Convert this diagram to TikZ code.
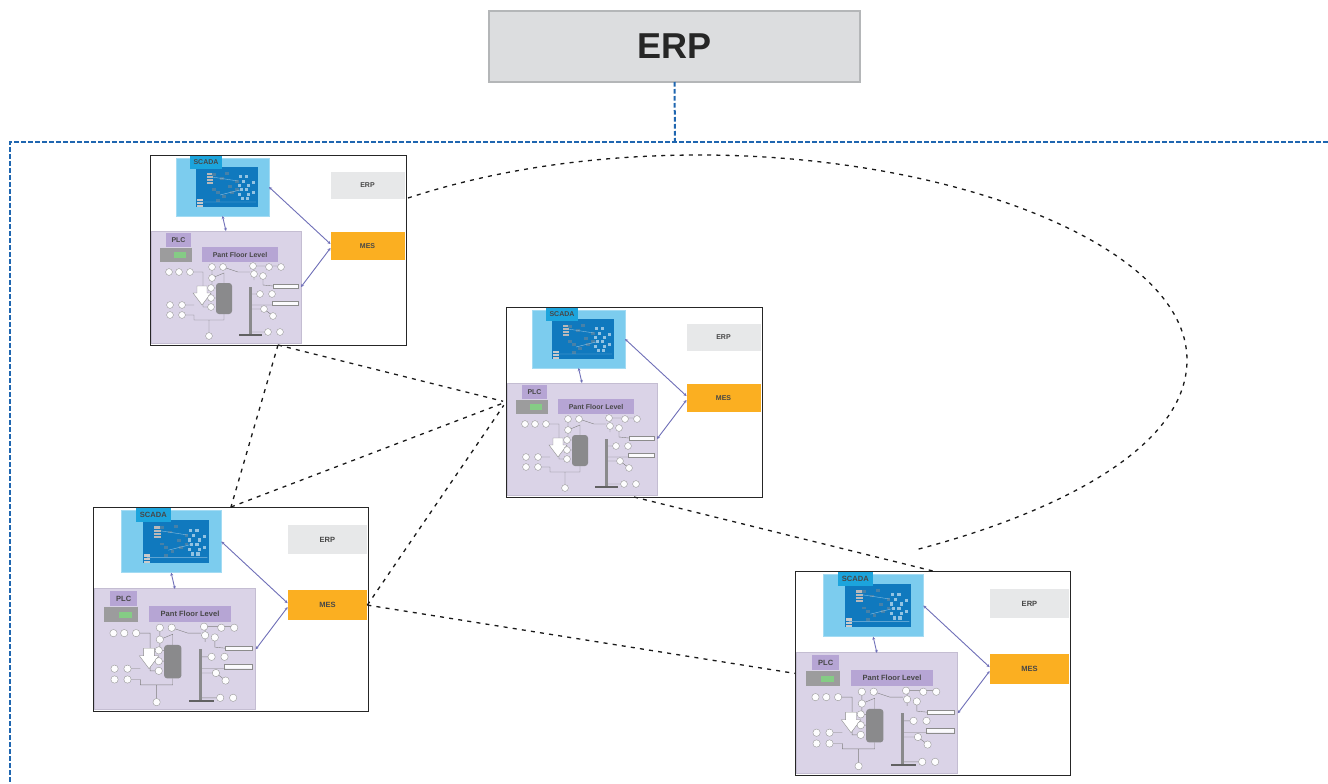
\documentclass[tikz,border=0pt]{standalone}
\usepackage{fontspec}
\usetikzlibrary{arrows.meta}
\setmainfont{Liberation Sans}
\definecolor{topfill}{HTML}{DCDDDF}
\definecolor{topedge}{HTML}{B4B6B8}
\definecolor{busblue}{HTML}{1F66B0}
\definecolor{scadalt}{HTML}{7CCCEE}
\definecolor{scadatag}{HTML}{1CA4DC}
\definecolor{scadadk}{HTML}{1079BE}
\definecolor{plcbg}{HTML}{DAD3E7}
\definecolor{plcedge}{HTML}{C4BDD2}
\definecolor{plctag}{HTML}{B6A5D4}
\definecolor{erpfill}{HTML}{E7E8E9}
\definecolor{mesfill}{HTML}{FBAF21}
\definecolor{linkv}{HTML}{6F6FB8}
\definecolor{graypart}{HTML}{8A8A8C}
\tikzset{
  rg/.style={inner sep=0pt,outer sep=0pt,text=black!72,font=\fontsize{\FS}{\FS}\selectfont\bfseries},
  link/.style={draw=linkv,line width=0.9pt,{Stealth[length=3pt,width=3pt]}-{Stealth[length=3pt,width=3pt]}},
  wire/.style={draw=black!50,line width=0.4pt},
  dot/.style={draw=black!40,fill=white!95!plcbg,line width=0.4pt},
  peer/.style={draw=black!90,line width=1.3pt,dash pattern=on 4pt off 5.2pt},
  bus/.style={draw=busblue,line width=2pt,dash pattern=on 4.6pt off 2.4pt}
}
% region: name, x0, y0, x1, y1, style, text
\newcommand{\rgn}[7]{\node[rg,#6,minimum width=\S*(#4-#2)*1pt,minimum height=\S*(#5-#3)*1pt] (#1) at ({(#2+#4)/2},{(#3+#5)/2}) {#7};}
\newcommand{\panel}[4]{%
\begin{scope}[shift={(#2,#3)},x=#4 pt,y=-#4 pt]
\def\S{#4}
\pgfmathsetmacro\FS{7*#4}
\rgn{#1}{0}{0}{256}{190}{draw=black!85,line width=1pt,fill=white}{}
\rgn{#1s}{26}{3}{119}{61}{draw=scadalt!70!white,line width=0.6pt,fill=scadalt}{}
\fill[scadadk] (46,12) rectangle (108,52);
\rgn{#1st}{40}{1}{72}{14}{fill=scadatag}{SCADA}
\foreach \b in {18,21,24,27}{\fill[graypart!60!white] (57,\b) rectangle ++(6,2);}
\foreach \b in {44,47,50}{\fill[graypart!45!white] (47,\b) rectangle ++(6,2);}
\foreach \a/\b in {62/18,70/22,75/17,78/30,62/33,66/36,72/40,80/36,85/25,85/33,66/44}{\fill[graypart!45!scadadk] (\a,\b) rectangle ++(3.5,2.5);}
\foreach \a/\b in {89/20,95/20,92/25,88/29,97/29,90/33,95/33,88/38,97/38,91/42,96/42,102/26,102/36}{\fill[white!55!scadadk] (\a,\b) rectangle ++(3,3);}
\draw[white!50!scadadk,line width=0.4pt] (50,47) -- (106,47) (62,22) -- (88,26) (70,40) -- (90,35);
\rgn{#1p}{1}{76}{151}{188}{draw=plcedge,line width=0.9pt,fill=plcbg}{}
\rgn{#1pt}{16}{78}{41}{92}{fill=plctag}{PLC}
\fill[graypart!85!white] (10,93) rectangle (42,107);
\fill[white!65!green!80!black] (24,97) rectangle (36,103);
\rgn{#1f}{52}{92}{128}{107}{fill=plctag}{Pant Floor Level}
\rgn{#1e}{180.5}{17}{254.5}{44}{fill=erpfill}{ERP}
\rgn{#1m}{180.5}{77}{254.5}{105}{fill=mesfill}{MES}
\draw[link] (#1s.south) -- (#1p.north);
\draw[link] (#1s.east) -- ([yshift=2pt]#1m.west);
\draw[link] (#1p.east) -- ([yshift=-2pt]#1m.west);
% plant floor schematic
\draw[wire] (40,117) -- (53,117) -- (53,152) -- (61,152)
  (32,150) -- (44,150) (32,160) -- (44,160) -- (44,165) -- (74,165) -- (74,159)
  (62,112) -- (62,133) (73,112) -- (88,117) -- (100,117)
  (62,123) -- (74,118) -- (74,128) (61,133) -- (66,133) (61,143) -- (66,143)
  (59,165) -- (59,181) (104,111) -- (104,125) (113,121) -- (113,130) -- (123,131)
  (100,139) -- (110,139) (100,150) -- (123,150) (100,154) -- (114,154) -- (123,161)
  (100,177) -- (118,177) (103,111) -- (131,111);
\fill[graypart,rounded corners=3pt] (66,128) rectangle (82,159);
\draw[draw=black!45,fill=white,line width=0.4pt] (47,131) -- (57,131) -- (57,138) -- (61,138) -- (52,150) -- (43,138) -- (47,138) -- cycle;
\fill[graypart] (98.5,132) rectangle (101.5,180);
\fill[graypart!70!black] (89,179) rectangle (112,181);
\draw[black!45,fill=white!90!plcbg,line width=0.4pt] (123,129) rectangle (148,133) (122,146) rectangle (148,150);
\foreach \a/\b in {19/117,29/117,40/117,62/112,73/112,62/123,61/133,61/143,61/152,103/111,119/112,131/112,104/119,113/121,20/150,32/150,20/160,32/160,110/139,122/139,114/154,123/161,118/177,130/177,59/181}{\draw[dot] (\a,\b) circle[radius=3.4];}
\end{scope}}
\begin{document}
\begin{tikzpicture}[x=1pt,y=-1pt]
\useasboundingbox (0,0) rectangle (1328,784);
\fill[white] (0,0) rectangle (1328,784);
\node[draw=topedge,line width=1.2pt,fill=topfill,minimum width=371pt,minimum height=71pt,inner sep=0pt,outer sep=0pt,font=\fontsize{36}{36}\selectfont\bfseries,text=black!85] (top) at (674.5,46.5) {ERP};
\coordinate (busjoin) at (675,142);
\coordinate (busl) at (10,142);
\coordinate (busr) at (1328,142);
\coordinate (busd) at (10,784);
\draw[bus] (top.south) -- (busjoin);
\draw[bus] (busr) -- (busl) -- (busd);
\panel{pa}{150}{155}{1}
\panel{pb}{506}{307}{1}
\panel{pc}{93}{507}{1.078}
\panel{pd}{795}{571}{1.078}
\draw[peer,shorten >=3pt] (pa.south) -- (pb.west);
\draw[peer] (pa.south) -- (pc.north);
\draw[peer,shorten >=3pt] (pc.north) -- (pb.west);
\draw[peer,shorten >=4pt] (pcm.east) -- (pb.west);
\draw[peer] (pcm.east) -- (pd.west);
\draw[peer] (pb.south) -- (pd.north);
\coordinate (loopa) at (408,198);
\coordinate (loopb) at (915,550);
\draw[peer] (loopa) .. controls (500,168) and (600,155) .. (700,155)
  .. controls (950,155) and (1187,245) .. (1187,360)
  .. controls (1187,450) and (1050,515) .. (loopb);
\end{tikzpicture}
\end{document}
